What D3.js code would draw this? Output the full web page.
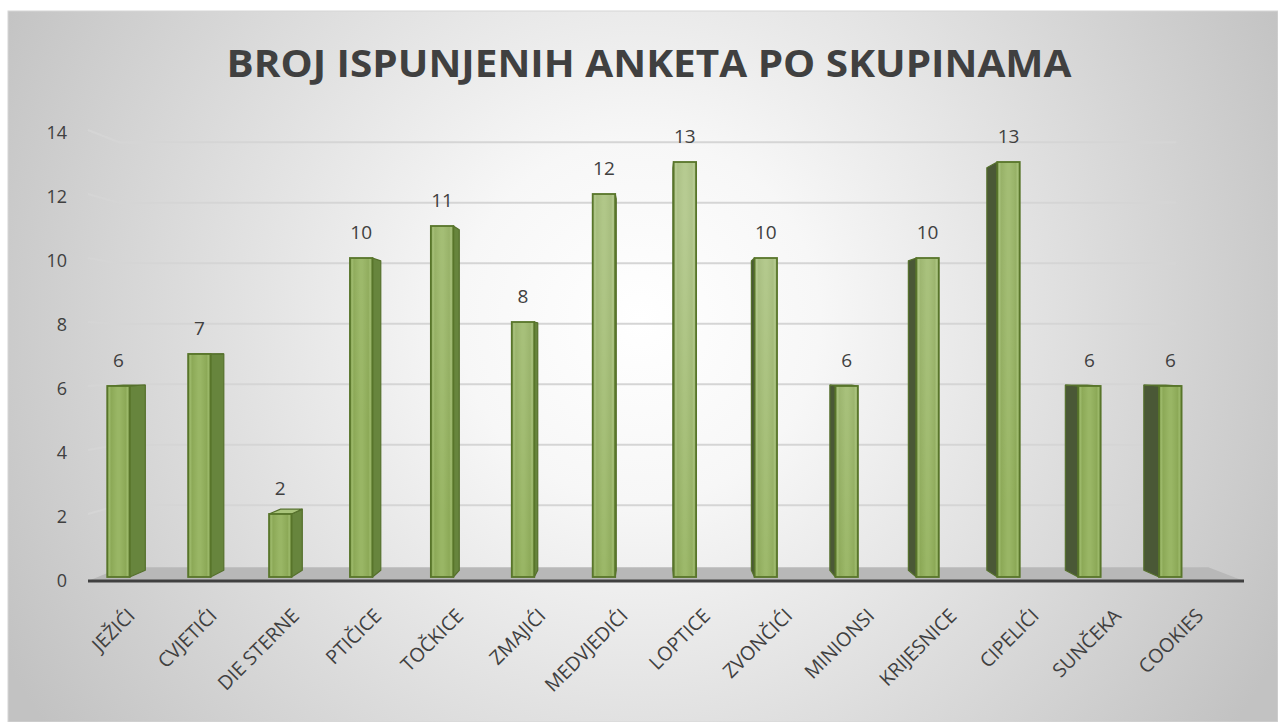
<!DOCTYPE html>
<html><head><meta charset="utf-8">
<script src="https://cdn.jsdelivr.net/npm/d3@7"></script>
<style>html,body{margin:0;padding:0;background:#fff;}svg{display:block;}</style>
</head><body>
<svg id="chart" width="1278" height="722"></svg>
<script>
const title = "BROJ ISPUNJENIH ANKETA PO SKUPINAMA";
const categories = ["JEŽIĆI","CVJETIĆI","DIE STERNE","PTIČICE","TOČKICE","ZMAJIĆI","MEDVJEDIĆI","LOPTICE","ZVONČIĆI","MINIONSI","KRIJESNICE","CIPELIĆI","SUNČEKA","COOKIES"];
const values = [6,7,2,10,11,8,12,13,10,6,10,13,6,6];
const yTicks = [0,2,4,6,8,10,12,14];

const svg = d3.select("#chart");
const defs = svg.append("defs");
const W = 1278, H = 722;
const vp = {x: 650, y: 353};          // perspective vanishing point
const kBar = 0.03, kWall = 0.055, kFloor = 0.06;
const toward = (p, k) => ({x: p.x + k*(vp.x - p.x), y: p.y + k*(vp.y - p.y)});

// background
const bg = defs.append("radialGradient").attr("id","bg").attr("gradientUnits","userSpaceOnUse")
  .attr("cx",640).attr("cy",320).attr("r",720);
bg.append("stop").attr("offset",0).attr("stop-color","#ffffff");
bg.append("stop").attr("offset",0.25).attr("stop-color","#f7f7f7");
bg.append("stop").attr("offset",1).attr("stop-color","#c2c2c2");
svg.append("rect").attr("x",8).attr("y",11).attr("width",W-8).attr("height",H-11)
  .attr("fill","url(#bg)").attr("stroke","#d6d6d6").attr("stroke-width",1);

// scales
const x = d3.scaleBand().domain(categories).range([78, 1210.8]).paddingInner(0.722).paddingOuter(0.361);
const y = d3.scaleLinear().domain([0,14]).range([578,130]);
const xLab = d3.scalePoint().domain(categories).range([136, 1204.5]);

// floor
const fl = {x0: 88, x1: 1244, y: 581};
const fbl = toward({x:fl.x0,y:fl.y}, kFloor), fbr = toward({x:fl.x1,y:fl.y}, kFloor);
svg.append("path").attr("d", `M${fl.x0},${fl.y}L${fbl.x},${fbl.y}L${fbr.x},${fbr.y}L${fl.x1},${fl.y}Z`)
  .attr("fill","#b8b8b8");

// gridlines on back wall and left wall
const grid = svg.append("g");
yTicks.filter(v => v>0).forEach(v => {
  const f = {x: fl.x0, y: y(v)};
  const b = toward(f, kWall);
  const br = toward({x: x.range()[1] - 4, y: y(v)}, kWall);
  grid.append("path").attr("d", `M${f.x},${f.y}L${b.x},${b.y}L${br.x},${b.y}`)
    .attr("fill","none").attr("stroke","#d5d5d5").attr("stroke-width",2);
});

// axis line
svg.append("line").attr("x1",fl.x0).attr("x2",fl.x1).attr("y1",fl.y).attr("y2",fl.y)
  .attr("stroke","#404040").attr("stroke-width",3);

// gradients for bars
const fg = defs.append("linearGradient").attr("id","front").attr("x1",0).attr("x2",1).attr("y1",0).attr("y2",0);
[[0,"#7b9847"],[0.1,"#9cb96a"],[0.18,"#8ca957"],[0.45,"#99b665"],[0.55,"#99b665"],[0.82,"#8ca957"],[0.9,"#9cb96a"],[1,"#7b9847"]]
  .forEach(s => fg.append("stop").attr("offset",s[0]).attr("stop-color",s[1]));
const hl = defs.append("radialGradient").attr("id","hl").attr("gradientUnits","userSpaceOnUse")
  .attr("cx",720).attr("cy",200).attr("r",420);
hl.append("stop").attr("offset",0).attr("stop-color","#ffffff").attr("stop-opacity",0.32);
hl.append("stop").attr("offset",1).attr("stop-color","#ffffff").attr("stop-opacity",0);

const bars = svg.append("g");
const base = 577;
categories.forEach((c,i) => {
  const v = values[i];
  const x0 = x(c), x1 = x(c) + x.bandwidth(), yt = y(v);
  const g = bars.append("g");
  const cx = x0 + x.bandwidth()/2;
  const ex = cx < vp.x ? x1 : x0;
  const ft = {x:ex, y:yt}, fb = {x:ex, y:base};
  const bt = toward(ft,kBar), bb = toward(fb,kBar);
  g.append("path").attr("d", `M${ft.x},${ft.y}L${bt.x},${bt.y}L${bb.x},${bb.y}L${fb.x},${fb.y}Z`)
    .attr("fill", cx < vp.x ? "#67853d" : "#4a5836").attr("stroke","#55702c").attr("stroke-width",1.2)
    .attr("stroke-linejoin","round");
  if (yt > vp.y) {
    const a = toward({x:x0,y:yt},kBar), b = toward({x:x1,y:yt},kBar);
    g.append("path").attr("d", `M${x0},${yt}L${a.x},${a.y}L${b.x},${b.y}L${x1},${yt}Z`)
      .attr("fill","#a9c47a").attr("stroke","#55702c").attr("stroke-width",1.2);
  }
  g.append("rect").attr("x",x0).attr("y",yt).attr("width",x.bandwidth()).attr("height",base-yt)
    .attr("fill","url(#front)");
  g.append("rect").attr("x",x0).attr("y",yt).attr("width",x.bandwidth()).attr("height",base-yt)
    .attr("fill","url(#hl)").attr("stroke","#58752a").attr("stroke-width",1.8);
  svg.append("text").attr("x",cx).attr("y",yt-19).attr("text-anchor","middle")
    .attr("font-family","'Open Sans', sans-serif").attr("font-size",19).attr("fill","#404040")
    .text(v);
});

// y axis labels
svg.append("g").selectAll("text").data(yTicks).join("text")
  .attr("x",67).attr("y",d => y(d)+8.5).attr("text-anchor","end")
  .attr("font-family","'Open Sans', sans-serif").attr("font-size",18).attr("fill","#404040")
  .text(d => d);

// category labels
svg.append("g").selectAll("text").data(categories).join("text")
  .attr("transform", d => `translate(${xLab(d)},617) rotate(-45)`)
  .attr("text-anchor","end")
  .attr("font-family","'Open Sans', sans-serif").attr("font-size",19.5).attr("fill","#404040")
  .text(d => d);

// title
svg.append("text").attr("x",649).attr("y",77).attr("text-anchor","middle")
  .attr("font-family","'Open Sans', sans-serif").attr("font-weight",700).attr("font-size",38)
  .attr("fill","#404040").attr("textLength",845).attr("lengthAdjust","spacingAndGlyphs")
  .text(title);
</script>
</body></html>
